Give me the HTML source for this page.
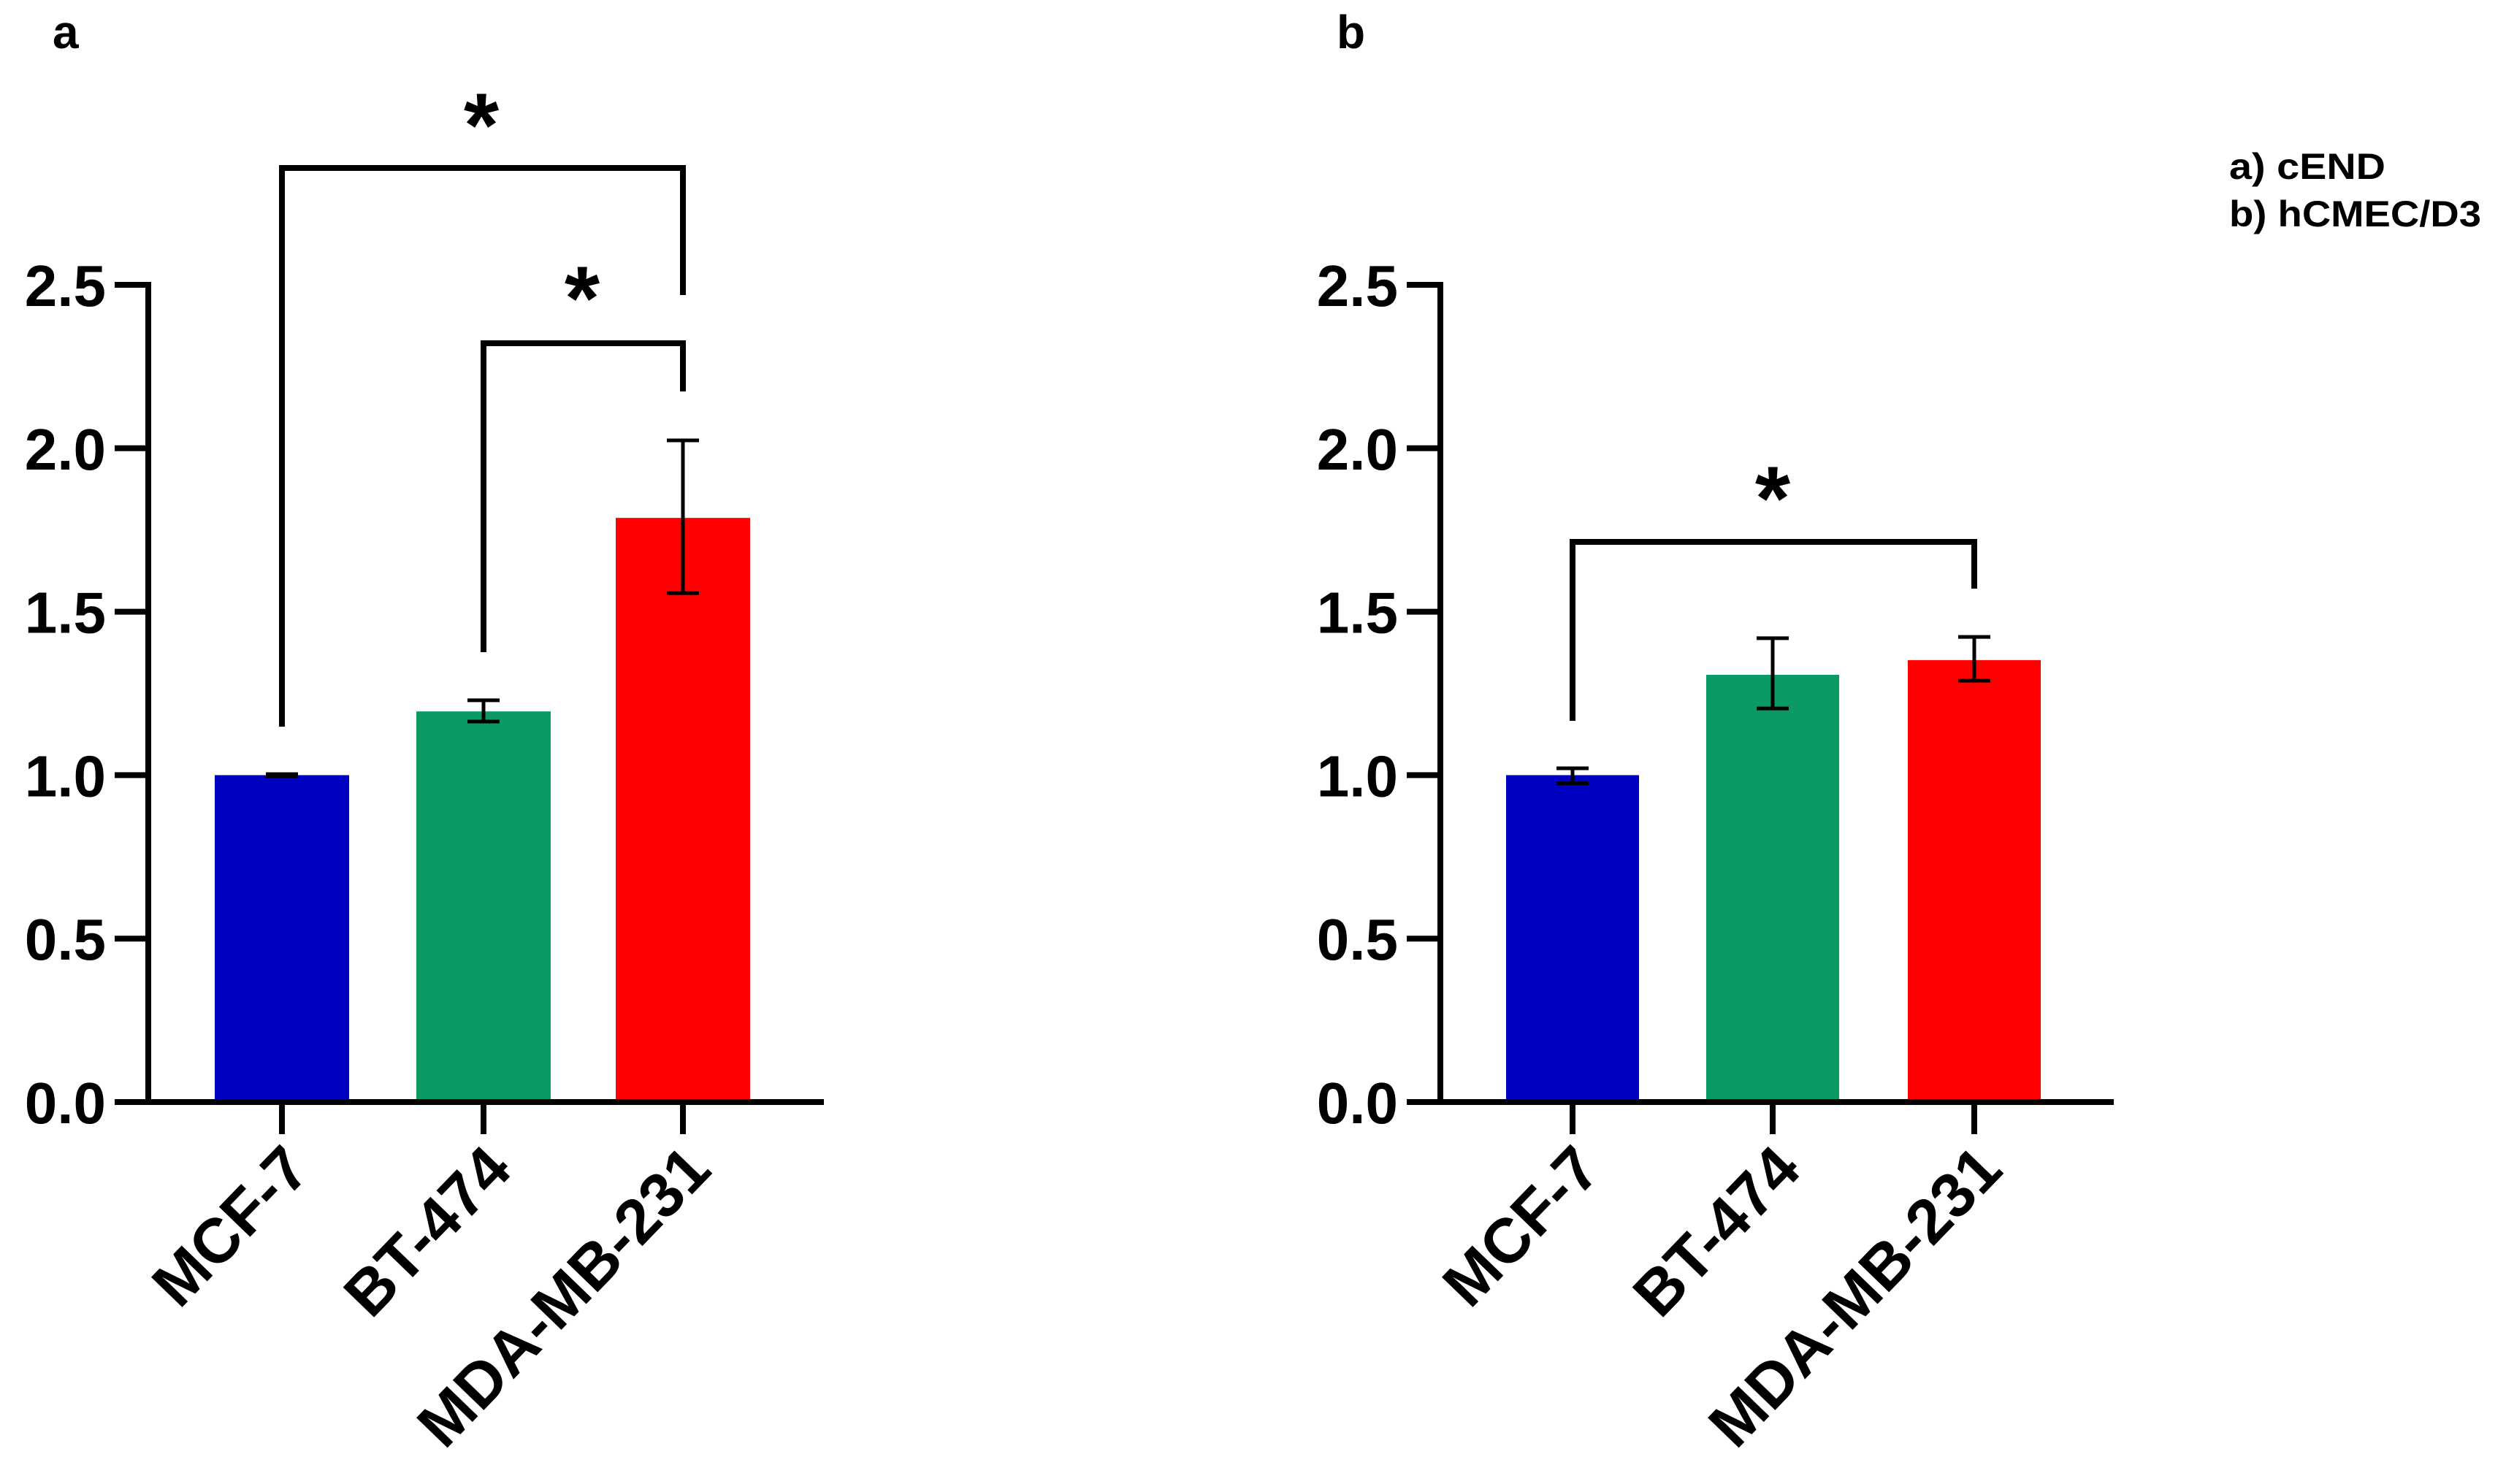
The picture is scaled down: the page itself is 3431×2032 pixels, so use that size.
<!DOCTYPE html>
<html><head><meta charset="utf-8"><style>
html,body{margin:0;padding:0;background:#fff;}
svg{display:block;font-family:"Liberation Sans",Arial,sans-serif;font-weight:bold;}
</style></head><body>
<svg id="chart" width="3431" height="2032" viewBox="0 0 3431 2032" xmlns="http://www.w3.org/2000/svg">
<text x="72" y="66" font-size="64">a</text>
<text x="1830" y="66" font-size="64">b</text>
<text x="3052" y="245" font-size="50" textLength="214" lengthAdjust="spacingAndGlyphs">a) cEND</text>
<text x="3052" y="310" font-size="50" textLength="345" lengthAdjust="spacingAndGlyphs">b) hCMEC/D3</text>
<g id="pa"></g>
<g id="pb"></g>
</svg>
<script>
const categories = ["MCF-7", "BT-474", "MDA-MB-231"];
const colors = ["#0000c0", "#0c9a64", "#ff0000"];
const yTicks = [0, 0.5, 1.0, 1.5, 2.0, 2.5];
const yTickLabels = ["0.0", "0.5", "1.0", "1.5", "2.0", "2.5"];
const valuesA = [1.0, 1.195, 1.787];
const errLowA = [0.997, 1.164, 1.557];
const errHighA = [1.003, 1.229, 2.024];
const valuesB = [1.0, 1.307, 1.352];
const errLowB = [0.975, 1.204, 1.289];
const errHighB = [1.021, 1.419, 1.423];

const NS = "http://www.w3.org/2000/svg";
function mk(parent, tag, attrs, txt) {
  const e = document.createElementNS(NS, tag);
  for (const k in attrs) e.setAttribute(k, attrs[k]);
  if (txt !== undefined) e.textContent = txt;
  parent.appendChild(e);
  return e;
}
const y0 = 1509, unit = 447.6;
function yScale(v) { return y0 - v * unit; }

function panel(g, axisX, axisEnd, centers, barW, vals, lo, hi, brackets) {
  vals.forEach((v, i) => {
    const r = mk(g, "rect", {x: centers[i] - barW / 2, y: yScale(v), width: barW, height: y0 - yScale(v), fill: colors[i]});
    
    
  });
  vals.forEach((v, i) => {
    const eg = mk(g, "g", {stroke: "#000", "stroke-width": 5});
    
    
    mk(eg, "line", {x1: centers[i], x2: centers[i], y1: yScale(lo[i]), y2: yScale(hi[i])});
    mk(eg, "line", {x1: centers[i] - 22, x2: centers[i] + 22, y1: yScale(lo[i]), y2: yScale(lo[i])});
    mk(eg, "line", {x1: centers[i] - 22, x2: centers[i] + 22, y1: yScale(hi[i]), y2: yScale(hi[i])});
  });
  const ya = mk(g, "g", {});
  
  
  mk(ya, "line", {x1: axisX, x2: axisX, y1: yScale(2.5) - 4, y2: y0 + 4, stroke: "#000", "stroke-width": 8});
  yTicks.forEach((t, i) => {
    mk(ya, "line", {x1: axisX - 46, x2: axisX, y1: yScale(t), y2: yScale(t), stroke: "#000", "stroke-width": 8});
    const tl = mk(ya, "text", {x: axisX - 58, y: yScale(t) + 29, "font-size": 80, "text-anchor": "end"}, yTickLabels[i]);
    
    
  });
  const xa = mk(g, "g", {});
  
  
  mk(xa, "line", {x1: axisX - 46, x2: axisEnd, y1: y0, y2: y0, stroke: "#000", "stroke-width": 8});
  centers.forEach((c, i) => {
    mk(xa, "line", {x1: c, x2: c, y1: y0, y2: y0 + 44, stroke: "#000", "stroke-width": 8});
    const tl = mk(xa, "text", {x: 0, y: 0, "font-size": 86, "text-anchor": "end", transform: "translate(" + (c + 42) + ",1605) rotate(-46)"}, categories[i]);
    
    
  });
  brackets.forEach(b => {
    const bg = mk(g, "g", {});
    
    
    mk(bg, "polyline", {points: centers[b.i] + "," + b.yl + " " + centers[b.i] + "," + b.yt + " " + centers[b.j] + "," + b.yt + " " + centers[b.j] + "," + b.yr, fill: "none", stroke: "#000", "stroke-width": 8});
    mk(bg, "text", {x: b.sx, y: b.sy + 69, "font-size": 124, "text-anchor": "middle"}, "*");
  });
}
panel(document.getElementById("pa"), 203, 1128, [386, 662, 935], 184, valuesA, errLowA, errHighA,
  [{i: 0, j: 2, yt: 230, yl: 995, yr: 404, sx: 659, sy: 145},
   {i: 1, j: 2, yt: 470, yl: 893, yr: 536, sx: 797, sy: 382}]);
panel(document.getElementById("pb"), 1972, 2894, [2153, 2427, 2703], 182, valuesB, errLowB, errHighB,
  [{i: 0, j: 2, yt: 742, yl: 987, yr: 806, sx: 2427, sy: 656}]);
</script>
</body></html>
